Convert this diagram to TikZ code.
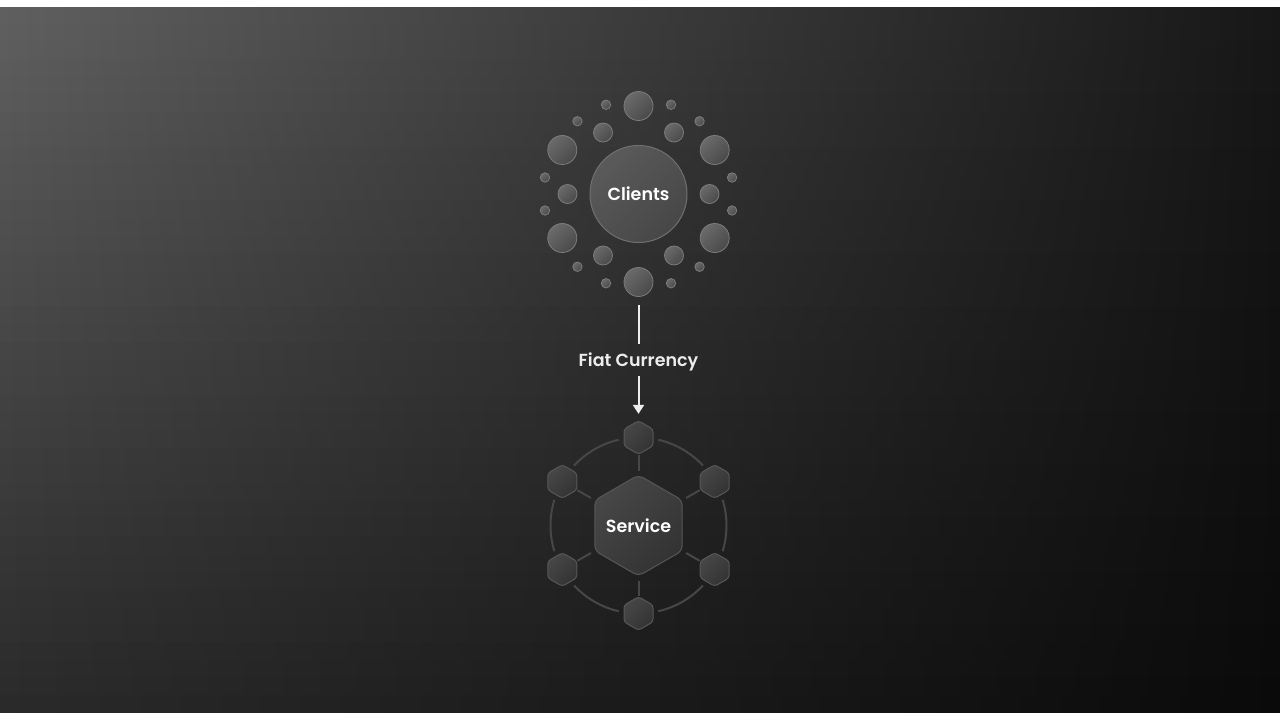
\documentclass[tikz,border=0pt]{standalone}
\usepackage{fontspec}
\setmainfont{Poppins SemiBold}
\usetikzlibrary{shapes.geometric,arrows.meta,calc}

\definecolor{dotrim}{HTML}{7C7C7C}
\definecolor{dotlight}{HTML}{6A6A6A}
\definecolor{dotdark}{HTML}{4A4A4A}
\definecolor{hubrim}{HTML}{707070}
\definecolor{hublight}{HTML}{5A5A5A}
\definecolor{hubdark}{HTML}{474747}
\definecolor{hexrim}{HTML}{575757}
\definecolor{hexlight}{HTML}{474747}
\definecolor{hexdark}{HTML}{333333}
\definecolor{ringcol}{HTML}{474747}
\definecolor{flowcol}{HTML}{EDEDED}

\tikzset{
  dot/.style={circle, draw=dotrim, line width=0.8pt, inner sep=0pt,
    top color=dotlight, bottom color=dotdark, shading angle=45},
  hub/.style={circle, draw=hubrim, line width=1pt, inner sep=0pt,
    minimum size=97pt, top color=hublight, bottom color=hubdark,
    shading angle=45, text=white, font=\fontsize{17.5}{20}\selectfont},
  hexnode/.style={regular polygon, regular polygon sides=6,
    shape border rotate=30, draw=hexrim, line width=1pt, inner sep=0pt,
    top color=hexlight, bottom color=hexdark, shading angle=45},
  hexbig/.style={hexnode, minimum size=101pt, rounded corners=5pt,
    text=white, font=\fontsize{17.5}{20}\selectfont},
  hexsmall/.style={hexnode, minimum size=33.5pt, rounded corners=3pt},
  ring/.style={draw=ringcol, line width=2pt},
  flow/.style={draw=flowcol, line width=2pt},
  flowlabel/.style={text=flowcol, inner sep=0pt, minimum height=32pt,
    text height=14pt, text depth=2pt,
    font=\fontsize{17.5}{20}\selectfont},
}

\begin{document}
\begin{tikzpicture}[x=1pt, y=-1pt]
\useasboundingbox (0,0) rectangle (1280,720);

% background: horizontal gradient darkened towards the bottom
\foreach \i in {0,...,39}{
  \pgfmathsetmacro\ya{6.5+\i*17.6625}
  \pgfmathsetmacro\yb{\ya+18.2}
  \pgfmathsetmacro\g{1-0.55*((\ya+8.83-20)/680)}
  \pgfmathtruncatemacro\cl{95.5*\g}
  \pgfmathtruncatemacro\cr{23.5*\g}
  \definecolor{bgL}{RGB}{\cl,\cl,\cl}
  \definecolor{bgR}{RGB}{\cr,\cr,\cr}
  \shade[left color=bgL, right color=bgR] (0,\ya) rectangle (1280,\yb);
}
\fill[white] (0,0) rectangle (1280,6.5);
\fill[white] (0,713) rectangle (1280,720);

% clients cluster
\node[hub] (clients) at (638.5,194) {Clients};
\begin{scope}[shift={(638.5,194)}]
  \foreach \a in {30,90,150,210,270,330}
    \node[dot, minimum size=29pt] (big\a) at (\a:88) {};
  \foreach \a in {0,60,120,180,240,300}
    \node[dot, minimum size=19pt] (mid\a) at (\a:71) {};
  \foreach \a in {10,50,70,110,130,170,190,230,250,290,310,350}
    \node[dot, minimum size=9.4pt] (sml\a) at (\a:95) {};
\end{scope}

% service cluster (label boxed at zero width so the hexagon keeps its size)
\node[hexbig] (service) at (638.5,525.5) {\makebox[0pt]{Service}};
\foreach \a in {30,90,150,210,270,330}{
  \node[hexsmall] (sh\a) at ($(service)+(\a:88)$) {};
  \draw[ring] ($(service)+(\a+13:88)$) arc[start angle=\a+13, end angle=\a+47, radius=88];
}
\foreach \a in {30,90,150,210,270,330}
  \draw[ring, shorten <=55pt] (service.center) -- (sh\a);

% flow between the clusters
\node[flowlabel] (fiat) at (638.5,360) {Fiat Currency};
\draw[flow, shorten <=8.5pt] (big90) -- (fiat);
\draw[flow, -{Triangle[width=11pt,length=9pt]}, shorten >=6.3pt] (fiat) -- (sh270);
\end{tikzpicture}
\end{document}
